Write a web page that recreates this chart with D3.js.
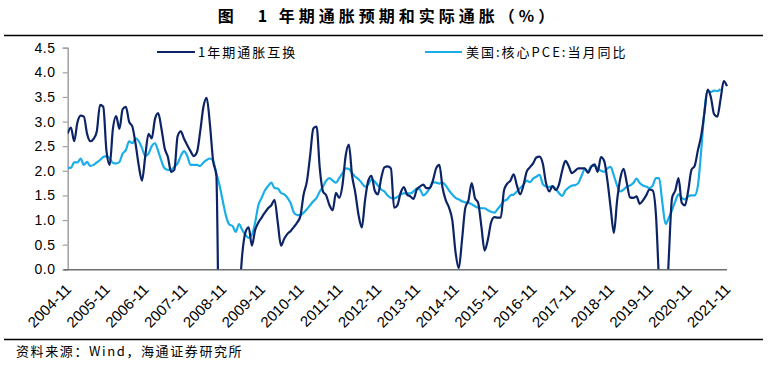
<!DOCTYPE html>
<html><head><meta charset="utf-8">
<script src="https://cdn.jsdelivr.net/npm/d3@7"></script>
<style>
body{margin:0;background:#fff;}
svg{display:block;}
</style></head>
<body>
<svg id="c" width="769" height="368"></svg>
<script>
const titleText = "图　1 年期通胀预期和实际通胀（%）";
const sourceText = "资料来源：Wind，海通证券研究所";
const seriesNames = ["1年期通胀互换", "美国:核心PCE:当月同比"];
const startMonth = "2004-11";
const tickLabels = ["2004-11","2005-11","2006-11","2007-11","2008-11","2009-11","2010-11","2011-11","2012-11","2013-11","2014-11","2015-11","2016-11","2017-11","2018-11","2019-11","2020-11","2021-11"];
const yTicks = [0,0.5,1,1.5,2,2.5,3,3.5,4,4.5];

// 1-year inflation swap (monthly from 2004-11); values below 0 are clipped by the axis
const swap = [2.76,2.88,2.60,2.98,3.12,3.10,2.75,2.60,2.65,2.80,3.34,3.30,2.40,2.12,2.86,3.11,2.85,3.25,3.30,3.00,
2.90,2.55,2.10,1.80,2.30,2.75,2.66,3.05,3.17,2.86,2.46,2.28,1.98,2.02,2.70,2.80,2.65,2.52,2.40,2.30,
2.38,2.80,3.30,3.48,2.95,2.20,1.90,-2.0,-1.6,-1.3,-1.1,-1.0,-0.9,-0.6,0.30,0.75,0.85,0.48,0.80,0.95,
1.05,1.15,1.24,1.30,1.41,0.95,0.48,0.62,0.72,0.78,0.86,0.95,1.08,1.52,1.78,2.30,2.86,2.90,2.05,1.58,
1.50,1.30,1.20,1.55,1.45,1.70,2.30,2.53,1.90,1.55,1.10,0.85,1.40,1.80,1.90,1.60,1.52,1.85,2.07,2.09,
2.05,1.25,1.30,1.55,1.67,1.52,1.48,1.43,1.62,1.68,1.72,1.65,1.65,1.80,2.05,2.12,1.65,1.40,1.25,1.00,
0.35,0.02,0.59,1.24,1.40,1.75,1.45,1.35,0.87,0.38,0.60,0.95,1.06,1.05,1.05,1.60,1.74,1.80,1.93,1.70,
1.52,1.70,1.98,2.07,2.15,2.27,2.29,2.15,1.75,1.58,1.69,1.61,1.72,2.00,2.20,2.10,1.95,2.00,2.05,2.05,
2.05,1.96,2.08,2.13,1.98,2.28,2.20,1.80,1.25,0.74,1.40,1.85,2.04,1.75,1.46,1.45,1.48,1.33,1.40,1.50,
1.62,1.60,1.12,-0.3,-1.5,-1.2,0.25,1.45,1.60,1.85,1.35,1.30,1.60,2.02,2.10,2.42,2.71,3.17,3.65,3.50,
3.15,3.10,3.45,3.82,3.72];

// US core PCE y/y (monthly from 2004-11)
const pce = [2.06,2.06,2.17,2.17,2.25,2.12,2.18,2.10,2.12,2.17,2.22,2.28,2.30,2.25,2.16,2.15,2.18,2.35,2.42,2.60,
2.56,2.66,2.60,2.46,2.30,2.35,2.50,2.56,2.40,2.20,2.05,2.02,2.02,2.08,2.15,2.30,2.40,2.30,2.12,2.12,
2.12,2.10,2.17,2.22,2.25,2.20,1.95,1.70,1.38,1.08,0.91,0.88,0.76,0.92,0.80,0.70,0.64,0.70,0.95,1.30,
1.45,1.60,1.69,1.76,1.65,1.64,1.55,1.52,1.45,1.34,1.15,1.10,1.10,1.15,1.22,1.30,1.38,1.45,1.58,1.68,
1.80,1.85,1.80,1.76,1.85,1.95,2.05,2.04,1.95,1.88,1.83,1.75,1.68,1.72,1.83,1.78,1.70,1.62,1.58,1.50,
1.45,1.44,1.47,1.52,1.54,1.54,1.54,1.58,1.64,1.62,1.50,1.55,1.65,1.77,1.76,1.74,1.76,1.70,1.60,1.52,
1.45,1.42,1.38,1.36,1.35,1.32,1.28,1.25,1.24,1.24,1.20,1.17,1.15,1.22,1.30,1.39,1.42,1.50,1.52,1.58,
1.65,1.72,1.80,1.77,1.84,1.88,1.92,1.73,1.68,1.67,1.69,1.63,1.55,1.49,1.60,1.66,1.70,1.71,1.75,1.90,
2.03,1.98,2.10,2.10,2.05,2.00,1.98,2.05,2.08,1.90,1.70,1.58,1.62,1.68,1.70,1.75,1.84,1.75,1.70,1.68,
1.65,1.70,1.85,1.85,1.35,0.92,1.05,1.20,1.38,1.52,1.45,1.42,1.48,1.50,1.50,1.70,2.40,3.20,3.62,3.60,
3.63,3.62,3.66];

const colors = ["#0c2466", "#19aee8"];

// month categories
const months = [];
{
  let y = +startMonth.slice(0,4), m = +startMonth.slice(5);
  for (let i = 0; i < swap.length; i++) {
    months.push(y + "-" + String(m).padStart(2,"0"));
    m++; if (m > 12) { m = 1; y++; }
  }
}

const svg = d3.select("#c");
const L = 67.7, R = 727, T = 47.7, B = 269.3;

const x = d3.scalePoint().domain(months).range([L, R]);
const y = d3.scaleLinear().domain([0, 4.5]).range([B, T]);

// title and rules
svg.append("text").attr("x", 388).attr("y", 22).attr("text-anchor", "middle")
  .attr("font-family", "'Noto Sans CJK SC', sans-serif").attr("font-weight", "bold")
  .attr("font-size", 16).attr("letter-spacing", 4).attr("fill", "#000")
  .attr("xml:space","preserve").text(titleText);
svg.append("line").attr("x1", 4).attr("x2", 763).attr("y1", 35.5).attr("y2", 35.5)
  .attr("stroke", "#000").attr("stroke-width", 1.3);
svg.append("line").attr("x1", 4).attr("x2", 763).attr("y1", 339.5).attr("y2", 339.5)
  .attr("stroke", "#000").attr("stroke-width", 1.3);

// y axis
const yAxis = svg.append("g").attr("transform", `translate(${L},0)`)
  .call(d3.axisLeft(y).tickValues(yTicks).tickFormat(d3.format(".1f")).tickSize(5).tickPadding(7));
yAxis.select(".domain").attr("stroke", "#a0a0a0").attr("stroke-width", 1.5);
yAxis.selectAll(".tick line").attr("stroke", "#a0a0a0").attr("stroke-width", 1.2);
yAxis.selectAll(".tick text").attr("font-family", "'Liberation Sans', Arial, sans-serif")
  .attr("font-size", 14).attr("fill", "#000").attr("letter-spacing", 0.6);

// x axis
const xAxis = svg.append("g").attr("transform", `translate(0,${B})`)
  .call(d3.axisBottom(x).tickValues(tickLabels).tickSize(0).tickPadding(0));
xAxis.select(".domain").attr("stroke", "#6e6e6e").attr("stroke-width", 1.4)
  .attr("d", `M${L-4},0.5H${R}`);
xAxis.selectAll(".tick text")
  .attr("font-family", "'Liberation Sans', Arial, sans-serif").attr("font-size", 15).attr("fill", "#000")
  .attr("text-anchor", "end").attr("dy", 0).attr("y", 0)
  .attr("transform", "translate(4,21) rotate(-45)");

// clip
svg.append("clipPath").attr("id", "clip").append("rect")
  .attr("x", L).attr("y", T - 10).attr("width", R - L + 10).attr("height", B - T + 10);

const line = d3.line().x((d, i) => x(months[i])).y(d => y(d)).curve(d3.curveMonotoneX);
const plot = svg.append("g").attr("clip-path", "url(#clip)");
plot.append("path").datum(pce).attr("d", line).attr("fill", "none")
  .attr("stroke", colors[1]).attr("stroke-width", 2.2);
plot.append("path").datum(swap).attr("d", line).attr("fill", "none")
  .attr("stroke", colors[0]).attr("stroke-width", 2.2);

// legend
const legend = [{x1: 157, x2: 195, tx: 198}, {x1: 425, x2: 462, tx: 466}];
legend.forEach((l, k) => {
  svg.append("line").attr("x1", l.x1).attr("x2", l.x2).attr("y1", 52).attr("y2", 52)
    .attr("stroke", colors[k]).attr("stroke-width", 2.2);
  svg.append("text").attr("x", l.tx).attr("y", 57)
    .attr("font-family", "'Noto Sans CJK SC', sans-serif").attr("font-size", 13)
    .attr("letter-spacing", 2).attr("fill", "#000").text(seriesNames[k]);
});

// source
svg.append("text").attr("x", 16).attr("y", 356)
  .attr("font-family", "'Noto Sans CJK SC', sans-serif").attr("font-size", 13)
  .attr("letter-spacing", 1.6).attr("fill", "#000").text(sourceText);
</script>
</body></html>
